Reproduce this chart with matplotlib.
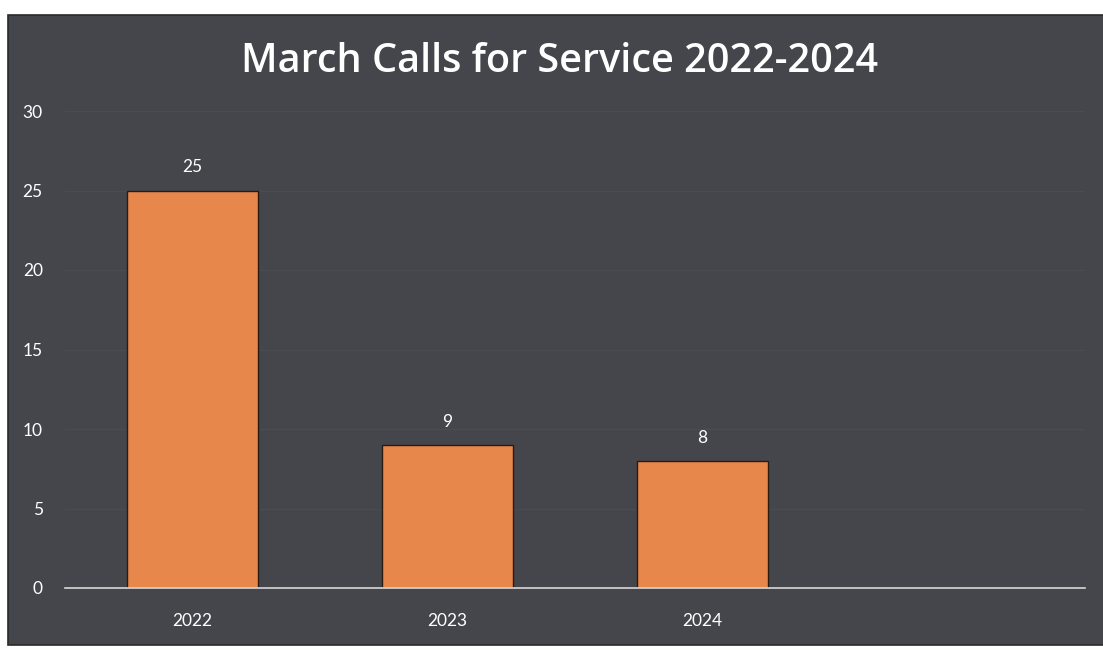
import matplotlib.pyplot as plt
from matplotlib.patches import Rectangle

plt.rcParams['font.family'] = ['Lato', 'DejaVu Sans']

# calls for service in March, by year (4th slot left empty on the chart)
years = ['2022', '2023', '2024', '']
calls = [25, 9, 8, None]
yticks = [0, 5, 10, 15, 20, 25, 30]

bg = '#44464c'
bar_color = '#e8874b'

fig = plt.figure(figsize=(11.03, 6.5), dpi=100, facecolor='white')
# dark chart area inside a thin white margin
fig.patches.append(Rectangle((8 / 1103, 5 / 650), 1100 / 1103, 630 / 650,
                             transform=fig.transFigure, facecolor=bg,
                             edgecolor='#2a2a2a', linewidth=1.2, zorder=-5))

ax = fig.add_axes([65 / 1103, 62 / 650, 1020 / 1103, 477 / 650])
ax.set_facecolor('none')
ax.set_zorder(2)

pos = list(range(len(years)))
vals = [v if v is not None else 0 for v in calls]
bars = ax.bar(pos, vals, width=0.51, color=bar_color, edgecolor='#2b1a12',
              linewidth=1.0, zorder=3)
bars[-1].set_visible(False)

for p, v in zip(pos, calls):
    if v is None:
        continue
    ax.annotate(str(v), (p, v), xytext=(0, 11), textcoords='offset points',
                ha='center', va='bottom', color='white', fontsize=12.5)

ax.set_xlim(-0.5, 3.5)
ax.set_ylim(0, 30)
ax.set_yticks(yticks)
ax.set_yticklabels([str(t) for t in yticks])
ax.set_xticks(pos)
ax.set_xticklabels(years)
ax.tick_params(axis='both', colors='white', labelsize=12.5, length=0)
ax.tick_params(axis='y', pad=16)
ax.tick_params(axis='x', pad=18)

ax.grid(axis='y', color='#4a4c53', linewidth=0.8, zorder=0)
for s in ['top', 'right', 'left']:
    ax.spines[s].set_visible(False)
ax.spines['bottom'].set_color('#d8d8d8')
ax.spines['bottom'].set_linewidth(1.2)
ax.spines['bottom'].set_zorder(4)

fig.text(560 / 1103, 1 - 62 / 650, 'March Calls for Service 2022-2024',
         ha='center', va='center', color='white', fontsize=28.5,
         fontweight='semibold', family=['Open Sans', 'DejaVu Sans'])

plt.savefig('out.png', dpi=100, facecolor=fig.get_facecolor())
